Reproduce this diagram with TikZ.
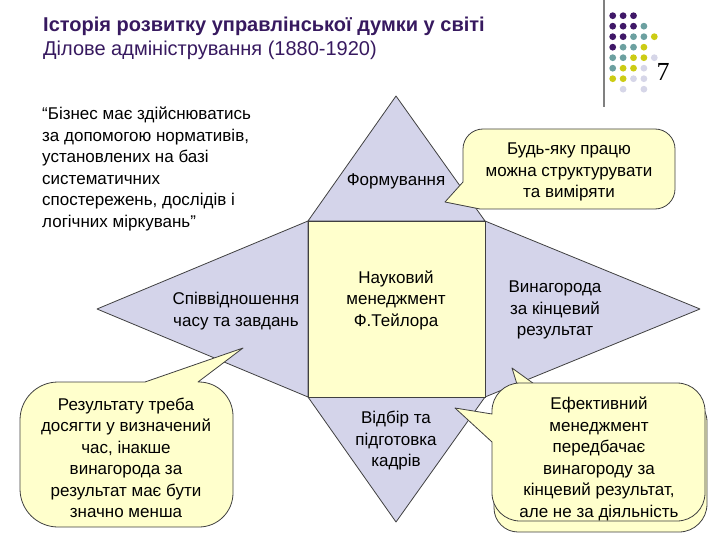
\documentclass[tikz,border=0pt]{standalone}
\usepackage{fontspec}
\setmainfont{Liberation Sans}
\newfontfamily\pagefont{Liberation Serif}
\definecolor{lilac}{RGB}{212,212,234}
\definecolor{cream}{RGB}{255,255,204}
\definecolor{plum}{RGB}{55,25,95}
\definecolor{dota}{RGB}{64,24,104}
\definecolor{dotb}{RGB}{108,160,160}
\definecolor{dotc}{RGB}{204,204,20}
\definecolor{dotd}{RGB}{214,214,232}

\begin{document}
\begin{tikzpicture}[x=1pt,y=-1pt,
    wing/.style={fill=lilac,draw=black!75,line width=0.8pt,line join=round},
    bubble/.style={fill=cream,draw=black!75,line width=0.8pt,line join=round},
    txt/.style={font=\fontsize{17}{21.5}\selectfont,align=center,inner sep=0pt}]
  \useasboundingbox (0,0) rectangle (720,540);

  % heading, rule and the dot block with the slide number
  \node[anchor=base west,inner sep=0pt,text=plum,font=\bfseries\fontsize{20}{24}\selectfont]
    (ttl) at (43,32) {Історія розвитку управлінської думки у світі};
  \node[anchor=base west,inner sep=0pt,text=plum,font=\fontsize{20}{24}\selectfont]
    (sub) at (43,56) {Ділове адміністрування (1880-1920)};
  \draw[black!50,line width=1.2pt] (604,0) -- (604,107);
  \foreach \r/\row in {0/{a,a,a},1/{a,a,a,b},2/{a,a,b,b,c},3/{a,b,b,c},
                       4/{b,b,c,c,d},5/{b,c,c,d},6/{c,c,d,d},7/{n,d,n,d}}
    \foreach \k [count=\c from 0] in \row
      {\if\k n\else \fill[fill=dot\k] (612.7+10.4*\c,15.7+10.5*\r) circle (3.4pt);\fi}
  \node[anchor=base,inner sep=0pt,font=\pagefont\fontsize{26}{30}\selectfont] (num) at (663,81) {7};

  % the quotation
  \node[txt,align=left,anchor=north west] (quote) at (42,107)
    {“Бізнес має здійснюватись\\за допомогою нормативів,\\установлених на базі\\систематичних\\спостережень, дослідів і\\логічних міркувань”};

  % the square and its four wings
  \coordinate (nw) at (308,221);
  \coordinate (ne) at (485,221);
  \coordinate (sw) at (308,397);
  \coordinate (se) at (485,397);
  \coordinate (tipN) at (396,96);
  \coordinate (tipW) at (97,309);
  \coordinate (tipE) at (700,309);
  \coordinate (tipS) at (396,522);
  \draw[wing] (nw) -- (tipN) -- (ne) -- cycle;
  \draw[wing] (nw) -- (tipW) -- (sw) -- cycle;
  \draw[wing] (ne) -- (tipE) -- (se) -- cycle;
  \draw[wing] (sw) -- (tipS) -- (se) -- cycle;
  \draw[fill=cream,draw=black!75,line width=0.8pt] (nw) rectangle (se);
  \node[txt] (sci) at (396,300) {Науковий\\менеджмент\\Ф.Тейлора};
  \node[txt] (form) at (396,181) {Формування};
  \node[txt] (ratio) at (236,311) {Співвідношення\\часу та завдань};
  \node[txt] (pay) at (555,310) {Винагорода\\за кінцевий\\результат};
  \node[txt] (pick) at (396,441) {Відбір та\\підготовка\\кадрів};

  % the call-outs
  \draw[bubble] (560,129) [rounded corners=20pt] -- (463,129) [sharp corners] -- (463,182)
    -- (445,202) -- (480,209) [rounded corners=20pt] -- (675,209) -- (675,129) -- cycle;
  \node[txt] (c1) at (569,172) {Будь-яку працю\\можна структурувати\\та виміряти};

  \draw[bubble] (100,527) [rounded corners=38pt] -- (20,527) -- (20,382) [sharp corners]
    -- (145,382) -- (243,348) -- (198,382) [rounded corners=34pt] -- (233,382) -- (233,527) -- cycle;
  \node[txt] (c2) at (126,458) {Результату треба\\досягти у визначений\\час, інакше\\винагорода за\\результат має бути\\значно менша};

  \draw[bubble] (600,532) [rounded corners=24pt] -- (494,532) -- (494,394) [sharp corners]
    -- (520,394) -- (512,368) -- (548,394) [rounded corners=28pt] -- (707,394) -- (707,532) -- cycle;
  \draw[bubble] (600,521) [rounded corners=28pt] -- (492,521) [sharp corners] -- (492,442)
    -- (455,408) -- (492,414) [rounded corners=28pt] -- (492,383) -- (705,383) -- (705,521) -- cycle;
  \node[txt] (c3) at (599,459) {Ефективний\\менеджмент\\передбачає\\винагороду за\\кінцевий результат,\\але не за діяльність};
\end{tikzpicture}
\end{document}
